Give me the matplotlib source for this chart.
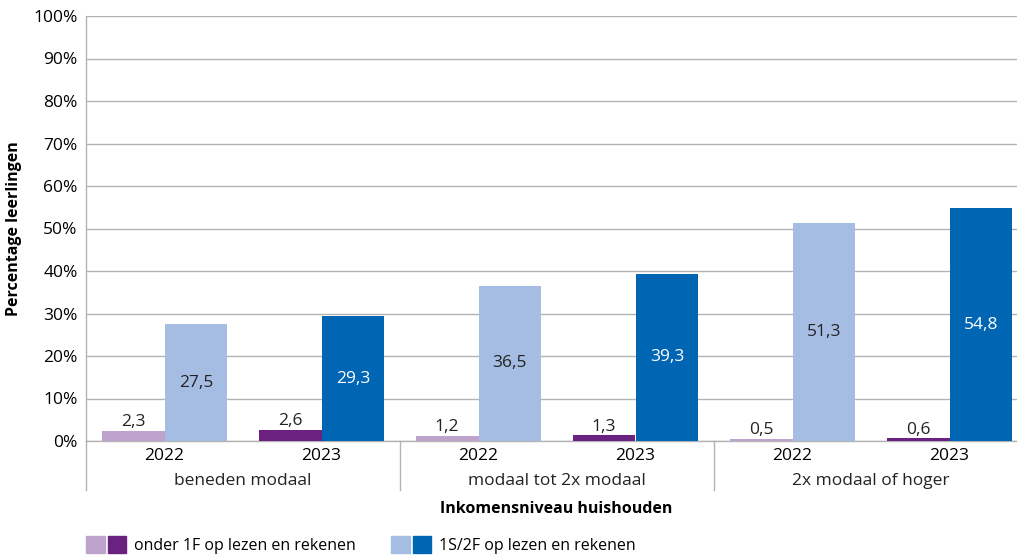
import numpy as np
import matplotlib.pyplot as plt
from matplotlib.patches import Patch
from matplotlib.legend_handler import HandlerTuple
import matplotlib.transforms as mtransforms

plt.rcParams['font.family'] = ['Open Sans', 'DejaVu Sans']

# data
groups = ['beneden modaal', 'modaal tot 2x modaal', '2x modaal of hoger']
years = ['2022', '2023']
onder_1f = [2.3, 2.6, 1.2, 1.3, 0.5, 0.6]
boven_1s = [27.5, 29.3, 36.5, 39.3, 51.3, 54.8]

col_onder = ['#bea3cd', '#6a2180']
col_boven = ['#a6bde3', '#0066b3']
txt_boven = ['#222222', 'white']
fs = 12.5

fig = plt.figure(figsize=(10.17, 5.55), dpi=100)
ax = fig.add_axes([86 / 1017, 1 - 441 / 555, 942 / 1017, 425 / 555])

x = np.arange(len(onder_1f))
w = 0.4
for i in x:
    yr = i % 2
    ax.bar(i - w / 2, onder_1f[i], w, color=col_onder[yr], zorder=3)
    ax.bar(i + w / 2, boven_1s[i], w, color=col_boven[yr], zorder=3)
    ax.text(i - w / 2, onder_1f[i] + 0.2, f'{onder_1f[i]:.1f}'.replace('.', ','),
            ha='center', va='bottom', fontsize=fs, color='#222222')
    ax.text(i + w / 2, boven_1s[i] / 2, f'{boven_1s[i]:.1f}'.replace('.', ','),
            ha='center', va='center', fontsize=fs, color=txt_boven[yr])

ax.set_xlim(-0.5, len(x) - 0.5)
ax.set_ylim(0, 100)
ax.set_yticks(np.arange(0, 101, 10))
ax.set_yticklabels([f'{v}%' for v in range(0, 101, 10)], fontsize=fs)
ax.yaxis.grid(True, color='#b3b3b3', linewidth=1, zorder=0)
ax.tick_params(axis='y', length=0, pad=6)
ax.set_xticks(x)
ax.set_xticklabels(years * len(groups), fontsize=fs)
ax.tick_params(axis='x', length=0, pad=5)
for s in ['top', 'right']:
    ax.spines[s].set_visible(False)
for s in ['left', 'bottom']:
    ax.spines[s].set_color('#b3b3b3')
    ax.spines[s].set_linewidth(1)

trans = mtransforms.blended_transform_factory(ax.transData, ax.transAxes)
for g, name in enumerate(groups):
    ax.text(2 * g + 0.5, -0.095, name, transform=trans, ha='center', va='center',
            fontsize=fs, color='#222222')
for b in [-0.5, 1.5, 3.5]:
    ax.plot([b, b], [0, -0.115], transform=trans, color='#b3b3b3', lw=1, clip_on=False)

ax.set_ylabel('Percentage leerlingen', fontsize=11.5, fontweight='bold', labelpad=8)
fig.text(556 / 1017, 1 - 509 / 555, 'Inkomensniveau huishouden', ha='center', va='center',
         fontsize=11.5, fontweight='bold')

handles = [(Patch(color=col_onder[0]), Patch(color=col_onder[1])),
           (Patch(color=col_boven[0]), Patch(color=col_boven[1]))]
labels = ['onder 1F op lezen en rekenen', '1S/2F op lezen en rekenen']
fig.legend(handles, labels, handler_map={tuple: HandlerTuple(ndivide=None, pad=0.2)},
           loc='center left', bbox_to_anchor=(80 / 1017, 1 - 545 / 555), ncol=2,
           frameon=False, fontsize=11.5, handlelength=2.5, handleheight=1.2,
           columnspacing=2.2, handletextpad=0.5, borderaxespad=0)

fig.savefig('out.png', dpi=100)
